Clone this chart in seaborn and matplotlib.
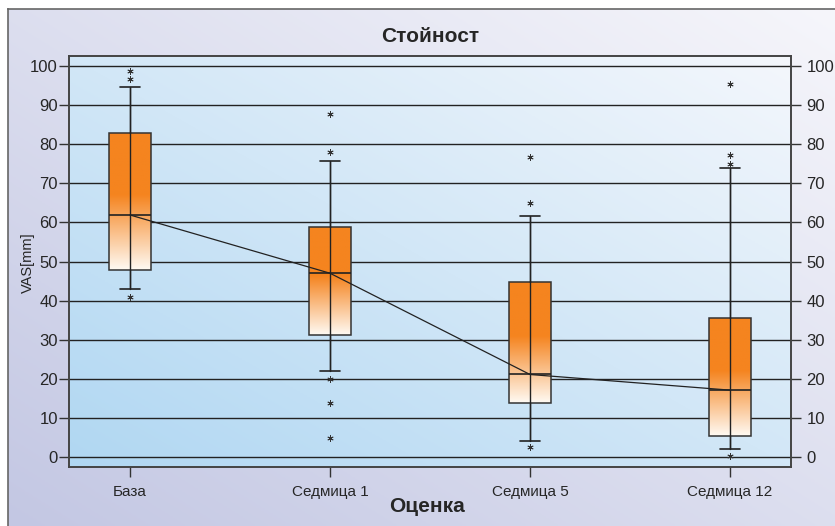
import numpy as np
import matplotlib.pyplot as plt
import seaborn as sns
from matplotlib.colors import to_rgb

# данни (отчетени от графиката)
labels = ['База', 'Седмица 1', 'Седмица 5', 'Седмица 12']
q1 = [47.9, 31.3, 13.7, 5.4]
median = [61.9, 47.0, 21.1, 17.1]
q3 = [82.9, 58.9, 44.8, 35.6]
whis_lo = [43.0, 22.1, 4.2, 2.1]
whis_hi = [94.7, 75.7, 61.6, 73.8]
outliers = [
    [98.7, 96.7, 41.0],
    [87.6, 77.9, 19.9, 13.9, 4.9],
    [76.6, 65.0, 2.6],
    [95.4, 77.2, 74.9, 0.3],
]
yticks = list(range(0, 101, 10))

sns.set_style('white')
plt.rcParams['font.family'] = ['Liberation Sans', 'DejaVu Sans']


def diag_gradient(c0, c1, n=200):
    t = np.linspace(0, 1, n)
    X, Y = np.meshgrid(t, t)
    w = ((X + Y) / 2)[..., None]
    return np.array(to_rgb(c0)) * (1 - w) + np.array(to_rgb(c1)) * w


def box_gradient(top='#f5841f', bottom='#fffaf3', solid=0.45, n=200):
    s = np.linspace(0, 1, n)
    f = np.clip((s - solid) / (1 - solid), 0, 1)[:, None]
    img = np.array(to_rgb(top)) * (1 - f) + np.array(to_rgb(bottom)) * f
    return img[:, None, :]


fig = plt.figure(figsize=(8.35, 5.26), dpi=100)

# фон на цялата фигура
bg = fig.add_axes([8 / 835, 0, 1 - 8 / 835, 1 - 9 / 526])
bg.imshow(diag_gradient('#c3c7e3', '#f6f6fb'), extent=[0, 1, 0, 1],
          aspect='auto', origin='lower')
bg.set_xlim(0, 1)
bg.set_ylim(0, 1)
bg.set_xticks([])
bg.set_yticks([])
for side in ['right', 'bottom']:
    bg.spines[side].set_visible(False)
for side in ['left', 'top']:
    bg.spines[side].set_color('#666666')
    bg.spines[side].set_linewidth(1.2)

ax = fig.add_axes([69 / 835, 59 / 526, 722 / 835, 411 / 526])
ax.set_facecolor('none')
ax.imshow(diag_gradient('#b0d7f2', '#f4f7fc'), extent=[0, 1, 0, 1],
          transform=ax.transAxes, aspect='auto', origin='lower', zorder=0)

pos = np.arange(len(labels))
stats = []
for i in range(len(labels)):
    stats.append(dict(med=median[i], q1=q1[i], q3=q3[i],
                      whislo=whis_lo[i], whishi=whis_hi[i],
                      fliers=outliers[i], label=labels[i]))

bp = ax.bxp(stats, positions=pos, widths=0.21, capwidths=0.1,
            patch_artist=True, manage_ticks=False,
            boxprops=dict(facecolor='none', edgecolor='#333333', lw=1.1, zorder=3),
            medianprops=dict(color='#222222', lw=1.2, zorder=4),
            whiskerprops=dict(color='#222222', lw=1.0, zorder=3),
            capprops=dict(color='#222222', lw=1.2, zorder=3),
            flierprops=dict(marker=(6, 2, 0), markersize=4.5, markeredgewidth=0.6,
                            markeredgecolor='#333333', linestyle='none', zorder=3))

grad = box_gradient()
for i, box in enumerate(bp['boxes']):
    im = ax.imshow(grad, extent=[pos[i] - 0.105, pos[i] + 0.105, q1[i], q3[i]],
                   aspect='auto', origin='upper', zorder=2.5)
    im.set_clip_path(box)

# вертикална линия през кутията
ax.vlines(pos, whis_lo, whis_hi, color='#222222', lw=1.0, zorder=3.5)

# линия през медианите
sns.lineplot(x=pos, y=median, color='#222222', lw=0.9, ax=ax, zorder=4)

ax.set_xlim(-0.305, 3.305)
ax.set_ylim(-2.56, 102.56)
ax.set_yticks(yticks)
ax.set_xticks(pos)
ax.set_xticklabels(labels, fontsize=11)
ax.set_xlabel('')
ax.set_ylabel('')
ax.yaxis.grid(True, color='#222222', lw=1.0)
ax.set_axisbelow(True)
for g in ax.get_ygridlines():
    g.set_zorder(1)
ax.tick_params(axis='x', direction='out', length=7, width=1, color='#333333',
               pad=6, bottom=True)
ax.tick_params(axis='y', direction='out', length=7, width=1, color='#333333',
               pad=1, labelsize=12, left=True)
for s in ax.spines.values():
    s.set_color('#444444')
    s.set_linewidth(1.2)

ax2 = ax.twinx()
ax2.set_ylim(ax.get_ylim())
ax2.set_yticks(yticks)
ax2.tick_params(axis='y', direction='out', length=7, width=1, color='#333333',
                pad=4, labelsize=12, right=True)
for s in ax2.spines.values():
    s.set_color('#444444')
    s.set_linewidth(1.2)

fig.text(430 / 835, 1 - 37 / 526, 'Стойност', ha='center', va='center',
         fontsize=15, fontweight='bold')
fig.text(427 / 835, 1 - 506 / 526, 'Оценка', ha='center', va='center',
         fontsize=15, fontweight='bold')
fig.text(28 / 835, 1 - 263 / 526, 'VAS[mm]', rotation=90, ha='center',
         va='center', fontsize=10.5)

fig.savefig('out.png', dpi=100)
